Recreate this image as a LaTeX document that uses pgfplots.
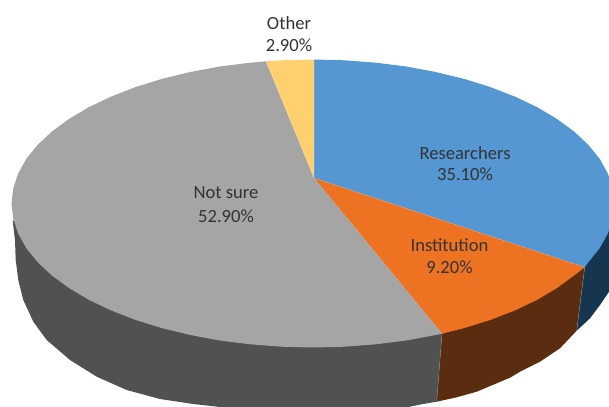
\documentclass[border=0pt]{standalone}
\usepackage{fontspec}
\setmainfont{Carlito}
\usepackage{pgfplots}
\pgfplotsset{compat=1.18}
\definecolor{blueTop}{HTML}{5597D3}
\definecolor{orangeTop}{HTML}{ED7323}
\definecolor{grayTop}{HTML}{A5A5A5}
\definecolor{yellowTop}{HTML}{FFD16E}
\definecolor{blueSide}{HTML}{163650}
\definecolor{orangeSide}{HTML}{5A2D10}
\definecolor{graySide}{HTML}{505251}
\definecolor{labelText}{HTML}{333333}
\definecolor{seam}{HTML}{909090}
\tikzset{lab/.style={font=\fontsize{18.6bp}{22bp}\selectfont, text=labelText, inner sep=0pt}}
\begin{document}
\begin{tikzpicture}
\begin{axis}[
    scale only axis,
    width=609bp, height=407bp,
    xmin=0, xmax=609, ymin=0, ymax=407,
    y dir=reverse,
    xtick=\empty, ytick=\empty,
    axis line style={draw=none},
    clip=true
]
% side walls, traced in picture pixels
\addplot[fill=graySide, draw=none] coordinates {
    (12.7,220.7) (15,240) (15.7,260) (18.3,280) (23.3,300) (33.3,321.7) (46.7,340)
    (70,360) (96.7,376.7) (126.7,390) (160,399) (193.3,404) (220,407) (260,415)
    (360,415) (410,406.7) (423,404) (436.7,401.7) (442,333.7) (314,178)};
\addplot[fill=orangeSide, draw=none] coordinates {
    (436.7,401.7) (456.7,397.3) (476.7,391.7) (510,377.7) (520,371.7) (540,361.7)
    (560,348.3) (576.7,330.7) (584.7,267.2) (442,333.7)};
\addplot[fill=blueSide, draw=none] coordinates {
    (576.7,330.7) (590,318.3) (600,305) (609,291.7) (625,270) (625,200) (584.7,267.2)};
\addplot[draw=seam, line width=0.3pt] coordinates {(442,333.7) (436.7,401.7)};
\addplot[draw=seam, line width=0.3pt] coordinates {(584.7,267.2) (576.7,330.7)};
% top faces
\addplot[fill=blueTop, draw=none] coordinates {
    (314,178) (314,59.5) (344.5,60.3) (375.7,62.7) (406.2,66.5) (435.6,72) (463.8,78.8)
    (490.2,87) (514.7,96.5) (537,107.1) (556.9,118.9) (574.1,131.5) (588.4,144.9)
    (599.8,159) (607.9,173.6) (612.8,188.5) (614.5,203.5) (612.8,218.5) (607.9,233.4)
    (599.8,248) (588.4,262.1) (584.7,267.2)};
\addplot[fill=orangeTop, draw=none] coordinates {
    (314,178) (584.7,267.2) (574.1,275.5) (556.9,288.1) (537,299.9) (514.7,310.5)
    (490.2,320) (463.8,328.2) (442,333.7)};
\addplot[fill=grayTop, draw=none] coordinates {
    (314,178) (442,333.7) (435.6,335) (406.2,340.5) (375.7,344.3) (344.5,346.7) (313,347.5)
    (281.5,346.7) (250.3,344.3) (219.8,340.5) (190.4,335) (162.2,328.2) (135.8,320)
    (111.3,310.5) (89,299.9) (69.1,288.1) (51.9,275.5) (37.6,262.1) (26.2,248)
    (18.1,233.4) (13.2,218.5) (11.5,203.5) (13.2,188.5) (18.1,173.6) (26.2,159)
    (37.6,144.9) (51.9,131.5) (69.1,118.9) (89,107.1) (111.3,96.5) (135.8,87)
    (162.2,78.8) (190.4,72) (219.8,66.5) (250.3,62.7) (266,61.3)};
\addplot[fill=yellowTop, draw=none] coordinates {
    (314,178) (266,61.3) (281.5,60.3) (314,59.5)};
% faint seams between the slices
\addplot[draw=white, opacity=0.2, line width=0.3pt] coordinates {(314,59.5) (314,178) (584.7,267.2)};
\addplot[draw=white, opacity=0.2, line width=0.3pt] coordinates {(266,61.3) (314,178) (442,333.7)};
% labels
\node[lab] at (axis cs:465,153) {Researchers};
\node[lab] at (axis cs:465,174.5) {35.10\%};
\node[lab] at (axis cs:449.5,245) {Institution};
\node[lab] at (axis cs:449.5,267) {9.20\%};
\node[lab] at (axis cs:226,193) {Not sure};
\node[lab] at (axis cs:226,216) {52.90\%};
\node[lab] at (axis cs:289,23) {Other};
\node[lab] at (axis cs:289,45) {2.90\%};
\end{axis}
\end{tikzpicture}
\end{document}
